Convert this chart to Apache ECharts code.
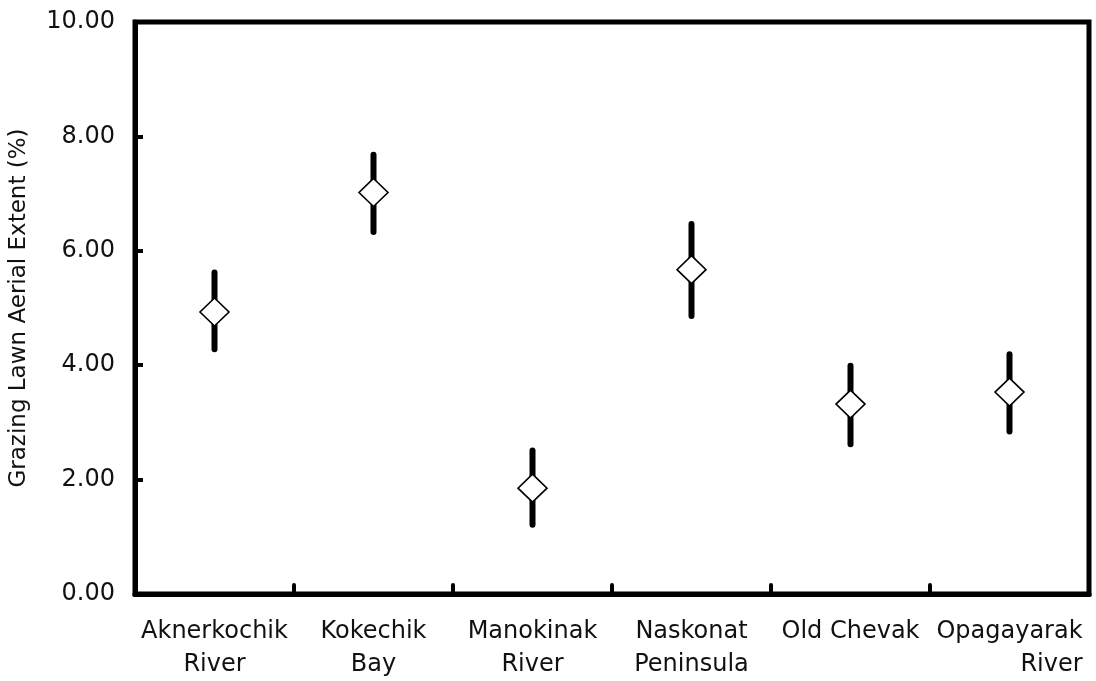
<!DOCTYPE html>
<html>
<head>
<meta charset="utf-8">
<script src="https://cdn.jsdelivr.net/npm/echarts@6/dist/echarts.min.js"></script>
<style>
  html, body { margin: 0; padding: 0; background: #fff; }
</style>
</head>
<body>
<div id="main" style="width:1096px;height:681px;"></div>
<script>
  // sites along the x axis
  var sites = ['Aknerkochik\nRiver', 'Kokechik\nBay', 'Manokinak\nRiver', 'Naskonat\nPeninsula', 'Old Chevak', 'Opagayarak\nRiver'];
  // mean extent (%) and error bar ends
  var meanVals = [4.93, 7.02, 1.85, 5.67, 3.32, 3.53];
  var lowVals = [4.28, 6.33, 1.21, 4.86, 2.62, 2.84];
  var highVals = [5.62, 7.68, 2.51, 6.47, 3.99, 4.19];
  var yTicks = [0, 2, 4, 6, 8, 10];

  var myChart = echarts.init(document.getElementById('main'));

  var errData = [];
  for (var i = 0; i < sites.length; i++) {
    errData.push([i, lowVals[i], highVals[i]]);
  }

  var option = {
    backgroundColor: '#fff',
    animation: false,
    textStyle: { fontFamily: 'DejaVu Sans' },
    grid: {
      left: 134, right: 7, top: 22, bottom: 87,
      show: true,
      borderColor: '#000',
      borderWidth: 5
    },
    xAxis: {
      type: 'category',
      data: sites,
      boundaryGap: true,
      z: 5,
      axisLine: { lineStyle: { color: '#000', width: 5 } },
      axisTick: { show: true, inside: true, length: 9, lineStyle: { color: '#000', width: 4, cap: 'round' } },
      axisLabel: {
        color: '#111',
        fontSize: 24,
        lineHeight: 33,
        margin: 21,
        interval: 0,
        formatter: function (v) {
          if (v === 'Opagayarak\nRiver') {
            return '{a|Opagayarak}\n{r|River}';
          }
          return v;
        },
        rich: {
          a: { fontSize: 24, lineHeight: 33, color: '#111' },
          r: { fontSize: 24, lineHeight: 33, color: '#111', align: 'right' }
        }
      },
      splitLine: { show: false }
    },
    yAxis: {
      type: 'value',
      min: yTicks[0],
      max: yTicks[yTicks.length - 1],
      interval: 2,
      z: 5,
      name: 'Grazing Lawn Aerial Extent (%)',
      nameLocation: 'middle',
      nameGap: 104,
      nameTextStyle: { color: '#111', fontSize: 23 },
      axisLine: { show: true, lineStyle: { color: '#000', width: 5 } },
      axisTick: { show: true, inside: true, length: 8, lineStyle: { color: '#000', width: 4 } },
      axisLabel: {
        color: '#111',
        fontSize: 24,
        margin: 20,
        formatter: function (v) { return v.toFixed(2); }
      },
      splitLine: { show: false }
    },
    series: [
      {
        type: 'custom',
        data: errData,
        z: 2,
        renderItem: function (params, api) {
          var lo = api.coord([api.value(0), api.value(1)]);
          var hi = api.coord([api.value(0), api.value(2)]);
          return {
            type: 'line',
            shape: { x1: lo[0], y1: lo[1], x2: hi[0], y2: hi[1] },
            style: { stroke: '#000', lineWidth: 6, lineCap: 'round' }
          };
        }
      },
      {
        type: 'scatter',
        data: meanVals,
        z: 3,
        symbol: 'diamond',
        symbolSize: [29, 28],
        itemStyle: { color: '#fff', borderColor: '#000', borderWidth: 1.6, opacity: 1 }
      }
    ]
  };
  myChart.setOption(option);
</script>
</body>
</html>
